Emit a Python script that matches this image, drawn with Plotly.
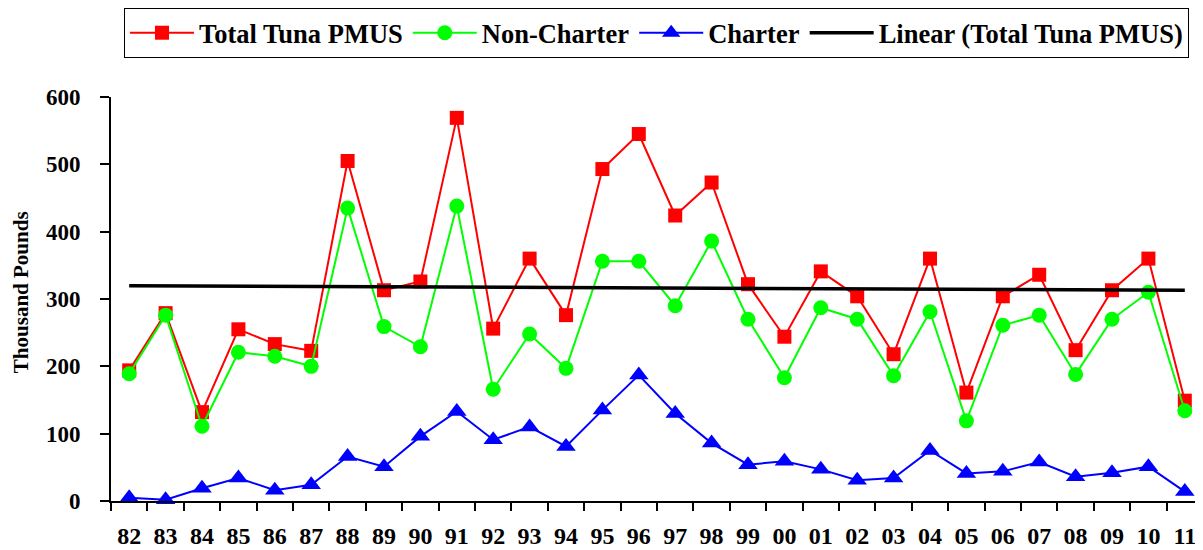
import numpy as np
import plotly.graph_objects as go

years = ["82","83","84","85","86","87","88","89","90","91","92","93","94","95","96",
         "97","98","99","00","01","02","03","04","05","06","07","08","09","10","11"]
total = [194,279,132,255,233,223,505,313,326,569,256,360,276,493,545,
         424,473,322,244,341,304,218,360,161,304,336,224,313,360,149]
non_charter = [189,276,111,221,215,200,435,259,229,438,166,248,197,356,356,
               290,386,270,183,287,270,186,281,119,261,276,188,270,310,134]
charter = [5,2,19,34,16,24,66,51,96,133,91,110,81,135,187,
           130,86,54,59,47,31,34,75,41,44,58,36,42,51,14]

idx = np.arange(len(years))
coef = np.polyfit(idx, np.array(total, dtype=float), 1)
trend = np.polyval(coef, idx)

FONT = "Liberation Serif"

fig = go.Figure()
fig.add_trace(go.Scatter(x=years, y=total, name="<b>Total Tuna PMUS</b>", mode="lines+markers",
                         line=dict(color="#ff0000", width=2),
                         marker=dict(symbol="square", size=14, color="#ff0000"),
                         cliponaxis=False))
fig.add_trace(go.Scatter(x=years, y=non_charter, name="<b>Non-Charter</b>", mode="lines+markers",
                         line=dict(color="#00ff00", width=2),
                         marker=dict(symbol="circle", size=15, color="#00ff00"),
                         cliponaxis=False))
fig.add_trace(go.Scatter(x=years, y=charter, name="<b>Charter</b>", mode="lines+markers",
                         line=dict(color="#0000ff", width=2),
                         marker=dict(symbol="triangle-up", size=17, color="#0000ff"),
                         cliponaxis=False))
fig.add_trace(go.Scatter(x=years, y=trend, name="<b>Linear (Total Tuna PMUS)</b>", mode="lines",
                         line=dict(color="#000000", width=3.5),
                         cliponaxis=False))

# page body has an 8px margin, so the figure is drawn 8px smaller
fig.update_layout(
    width=1195, height=542,
    margin=dict(l=103, r=0, t=89, b=49, autoexpand=False),
    paper_bgcolor="white", plot_bgcolor="white",
    font=dict(family=FONT, color="black", size=20),
    showlegend=True,
    legend=dict(orientation="h", xref="container", yref="container",
                x=0.5427, xanchor="center", y=1.0, yanchor="top",
                bordercolor="black", borderwidth=1,
                font=dict(family=FONT, size=26.5, color="black"),
                itemwidth=64, tracegroupgap=0),
    xaxis=dict(type="category", range=[-0.5, 29.5], tickson="boundaries",
               ticks="outside", ticklen=8, tickwidth=2, tickcolor="black",
               showline=True, linecolor="black", linewidth=2,
               showgrid=False, zeroline=False, automargin=False,
               tickfont=dict(family=FONT, size=24, color="black", weight="bold"),
               ticklabelstandoff=12),
    yaxis=dict(range=[0, 600], tickvals=[0,100,200,300,400,500,600],
               ticks="outside", ticklen=9, tickwidth=2, tickcolor="black",
               showline=True, linecolor="black", linewidth=2,
               showgrid=False, zeroline=False, automargin=False,
               tickfont=dict(family=FONT, size=23, color="black", weight="bold"),
               ticklabelstandoff=15),
    annotations=[dict(text="<b>Thousand Pounds</b>", textangle=-90,
                      xref="paper", yref="paper", x=0, y=0.517,
                      xanchor="center", yanchor="middle", xshift=-90,
                      showarrow=False,
                      font=dict(family=FONT, size=21, color="black"))],
)

fig.write_html("out.html")
